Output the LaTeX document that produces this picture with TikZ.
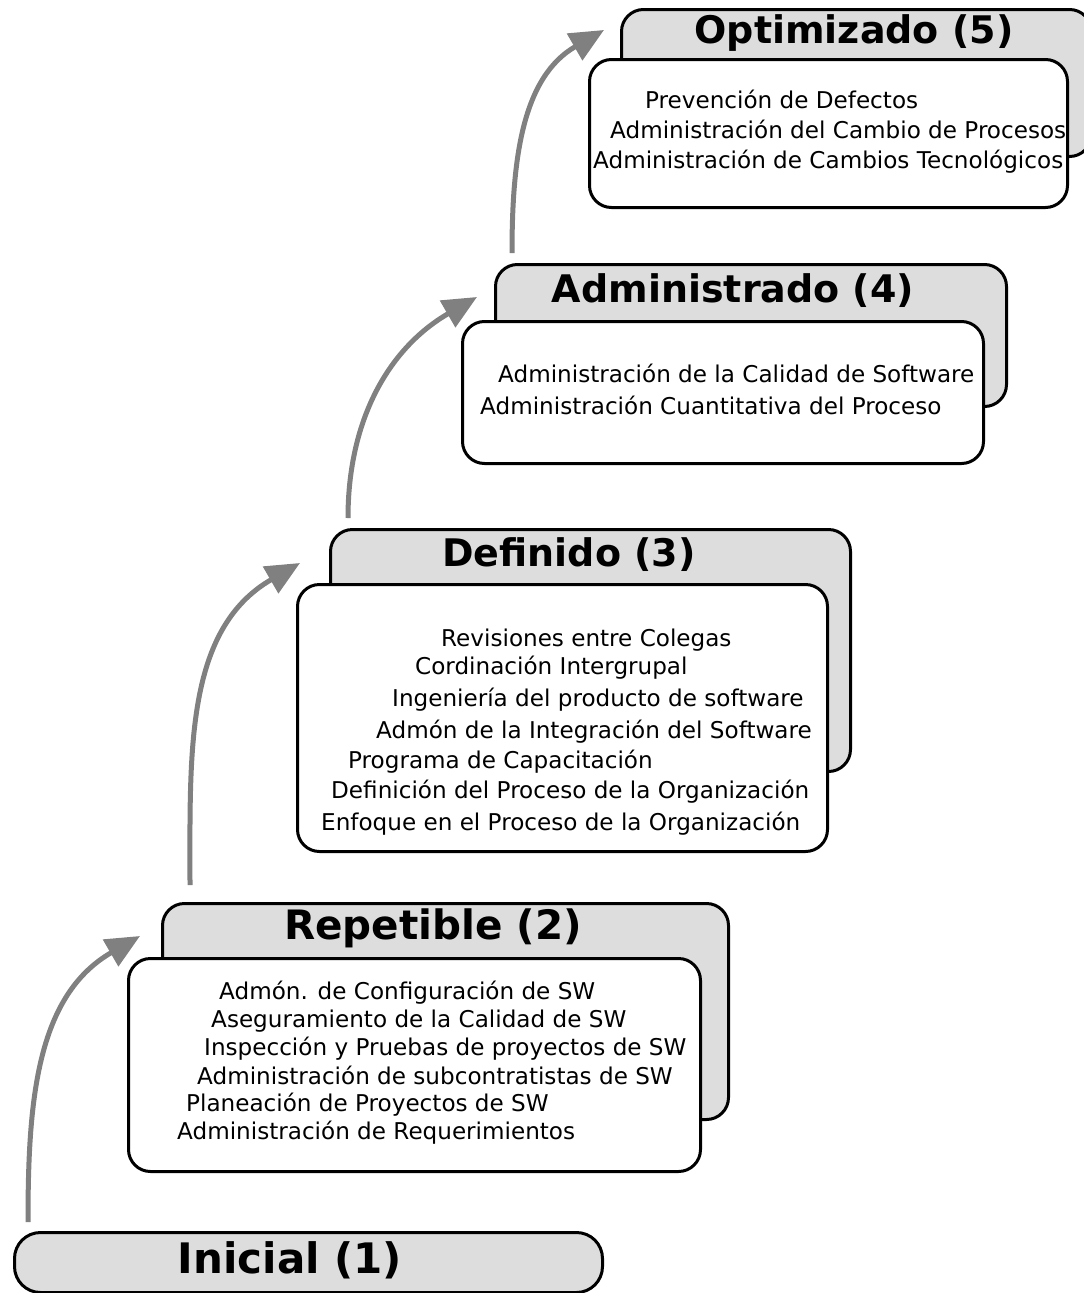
\documentclass[tikz,border=0pt]{standalone}
\usepackage{fontspec}
\setmainfont{DejaVu Sans}
\usetikzlibrary{arrows.meta}
\definecolor{backgray}{RGB}{221,221,221}
\definecolor{arrowgray}{RGB}{128,128,128}
\begin{document}
\begin{tikzpicture}[x=1pt,y=-1pt,
 backbox/.style={draw=black, line width=3pt, fill=backgray, rounded corners=22pt, anchor=north west, inner sep=0pt},
 frontbox/.style={draw=black, line width=3pt, fill=white, rounded corners=22pt, anchor=north west, inner sep=0pt},
 leveltitle/.style={font=\fontsize{38}{44}\selectfont\bfseries, anchor=center, inner sep=0pt},
 item/.style={font=\fontsize{23.1}{27}\selectfont, anchor=base west, inner sep=0pt},
 levelarrow/.style={draw=arrowgray, line width=5pt, -{Triangle[length=34pt,width=30pt]}}]
\useasboundingbox (0,0) rectangle (1084,1293);
\clip (0,0) rectangle (1084,1293);

% Level 5
\node[backbox, minimum width=470pt, minimum height=147pt] (b5) at (620,8) {};
\node[frontbox, minimum width=478pt, minimum height=148pt] (f5) at (588,58) {};
\node[leveltitle] (t5) at (854,33) {Optimizado (5)};
\node[item] (i51) at (645,108) {Prevención de Defectos};
\node[item] (i52) at (610,138) {Administración del Cambio de Procesos};
\node[item] (i53) at (593,168) {Administración de Cambios Tecnológicos};

% Level 4
\node[backbox, minimum width=511pt, minimum height=142pt] (b4) at (494,263) {};
\node[frontbox, minimum width=521pt, minimum height=142pt] (f4) at (461,320) {};
\node[leveltitle] (t4) at (733,291) {Administrado (4)};
\node[item] (i41) at (498,382) {Administración de la Calidad de Software};
\node[item] (i42) at (480,414) {Administración Cuantitativa del Proceso};

% Level 3
\node[backbox, minimum width=520pt, minimum height=242pt] (b3) at (329,528) {};
\node[frontbox, minimum width=530pt, minimum height=267pt] (f3) at (296,583) {};
\node[leveltitle] (t3) at (569,555) {Definido (3)};
\node[item] (i31) at (441,646) {Revisiones entre Colegas};
\node[item] (i32) at (415,674) {Cordinación Intergrupal};
\node[item] (i33) at (392,706) {Ingeniería del producto de software};
\node[item] (i34) at (376,738) {Admón de la Integración del Software};
\node[item] (i35) at (348,768) {Programa de Capacitación};
\node[item] (i36) at (331,798) {Definición del Proceso de la Organización};
\node[item] (i37) at (321,830) {Enfoque en el Proceso de la Organización};

% Level 2
\node[backbox, minimum width=566pt, minimum height=216pt] (b2) at (161,902) {};
\node[frontbox, minimum width=572pt, minimum height=213pt] (f2) at (127,957) {};
\node[leveltitle, font=\fontsize{40.5}{46}\selectfont\bfseries] (t2) at (433,928) {Repetible (2)};
\node[item] (i21) at (219,999) {Admón. de Configuración de SW};
\node[item] (i22) at (211,1027) {Aseguramiento de la Calidad de SW};
\node[item] (i23) at (204,1055) {Inspección y Pruebas de proyectos de SW};
\node[item] (i24) at (197,1084) {Administración de subcontratistas de SW};
\node[item] (i25) at (186,1111) {Planeación de Proyectos de SW};
\node[item] (i26) at (177,1139) {Administración de Requerimientos};

% Level 1
\node[backbox, rounded corners=26pt, minimum width=588pt, minimum height=60pt] (b1) at (13,1231) {};
\node[leveltitle, font=\fontsize{42}{48}\selectfont\bfseries] (t1) at (290,1260) {Inicial (1)};

% Arrows
\coordinate (a1s) at (28,1222);
\coordinate (a1e) at (140,936);
\coordinate (a2s) at (190,885);
\coordinate (a2e) at (300,563);
\coordinate (a3s) at (348,518);
\coordinate (a3e) at (477,297);
\coordinate (a4s) at (512,253);
\coordinate (a4e) at (604,30);
\draw[levelarrow] (a1s) to[out=90,in=210] (a1e);
\draw[levelarrow] (a2s) to[out=90,in=210] (a2e);
\draw[levelarrow] (a3s) to[out=90,in=210] (a3e);
\draw[levelarrow] (a4s) to[out=90,in=210] (a4e);
\end{tikzpicture}
\end{document}
